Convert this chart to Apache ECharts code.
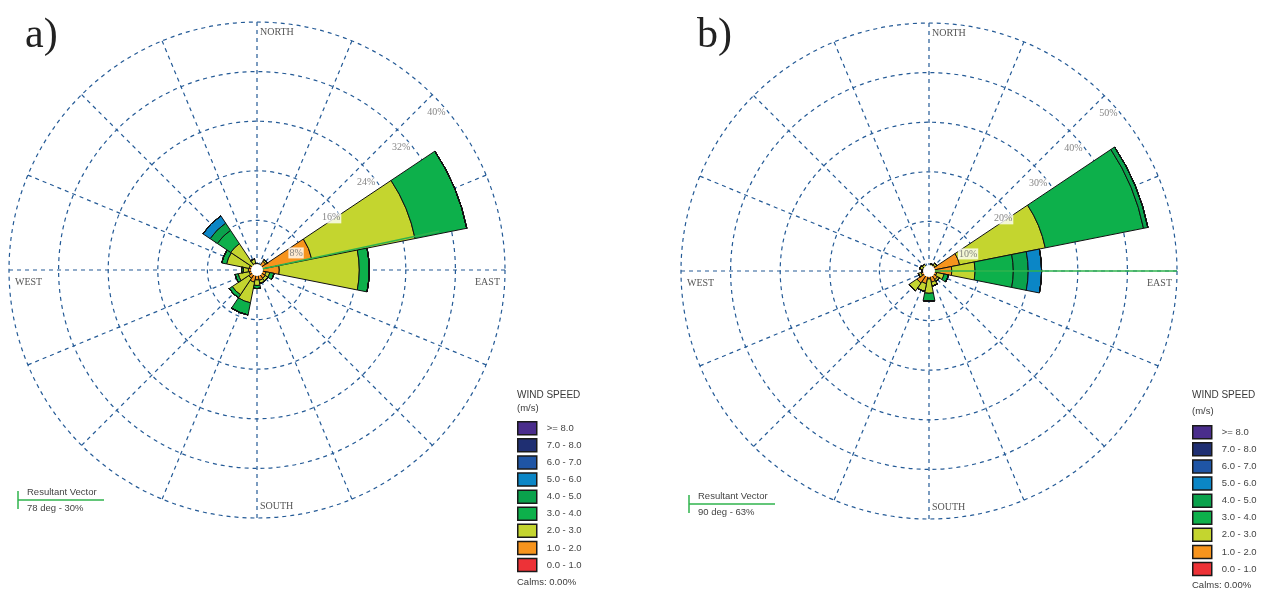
<!DOCTYPE html>
<html>
<head>
<meta charset="utf-8">
<script src="https://cdn.jsdelivr.net/npm/echarts@6/dist/echarts.min.js"></script>
<style>
html,body{margin:0;padding:0;background:#fff;}
#chart{width:1261px;height:590px;}
</style>
</head>
<body>
<div id="chart"></div>
<script>
// ---------- DATA ----------
const directions = ['N','NNE','NE','ENE','E','ESE','SE','SSE','S','SSW','SW','WSW','W','WNW','NW','NNW'];
const speedBins = ['0.0 - 1.0','1.0 - 2.0','2.0 - 3.0','3.0 - 4.0','4.0 - 5.0','5.0 - 6.0','6.0 - 7.0','7.0 - 8.0','>= 8.0'];
const binColors = ['#ed3237','#f7941d','#c4d52f','#0db04b','#0aa24c','#0b86c6','#1f55a5','#1f2f72','#4a2d8c'];

// Chart a) frequency (%) per direction, one array per speed bin
const a_0_1 = [0.1,0.1,0.2,0.3,0.2,0.1,0.1,0.1,0.1,0.1,0.1,0.1,0.1,0.1,0.1,0.1];
const a_1_2 = [0.9,0.8,1.5,8.7,3.4,1.4,1.5,1.6,1.5,1.9,1.5,1.2,1.3,1.2,0.6,1.0];
const a_2_3 = [0,0,0.3,17.0,12.9,0.6,0.5,0.5,0.9,3.4,3.2,1.8,0.8,3.7,4.4,0.7];
const a_3_4 = [0,0,0,8.5,1.6,0.7,0,0,0.5,2.0,0.6,0.5,0.3,0.8,2.6,0];
const a_4_5 = [0,0,0,0,0,0,0,0,0,0,0,0,0,0,1.4,0];
const a_5_6 = [0,0,0,0,0,0,0,0,0,0,0,0,0,0,1.4,0];
const a_6_7 = [0,0,0,0,0,0,0,0,0,0,0,0,0,0,0,0];
const a_7_8 = [0,0,0,0,0,0,0,0,0,0,0,0,0,0,0,0];
const a_8up = [0,0,0,0,0,0,0,0,0,0,0,0,0,0,0,0];

// Chart b)
const b_0_1 = [0.1,0.1,0.1,0.2,0.2,0.1,0.1,0.1,0.1,0.1,0.1,0.1,0.1,0.1,0.1,0.1];
const b_1_2 = [0.7,0.6,1.4,6.1,4.4,1.5,2.0,2.2,1.5,2.5,2.8,1.5,1.0,1.2,0.7,0.5];
const b_2_3 = [0,0.8,0.4,17.6,4.7,1.5,0.4,0.8,2.9,1.6,1.9,0.6,0.3,0.6,0.8,0.3];
const b_3_4 = [0,0,0,20.2,7.7,0.9,0,0,1.6,0,0,0,0,0,0,0];
const b_4_5 = [0,0,0,0.9,3.0,0,0,0,0,0,0,0,0,0,0,0];
const b_5_6 = [0,0,0,0,2.7,0,0,0,0,0,0,0,0,0,0,0];
const b_6_7 = [0,0,0,0,0,0,0,0,0,0,0,0,0,0,0,0];
const b_7_8 = [0,0,0,0,0,0,0,0,0,0,0,0,0,0,0,0];
const b_8up = [0,0,0,0,0,0,0,0,0,0,0,0,0,0,0,0];

const ringTicksA = [8,16,24,32,40];
const ringTicksB = [10,20,30,40,50];
const resultantA = [78, 30];   // [deg, %]
const resultantB = [90, 63];
const calmsA = '0.00%';
const calmsB = '0.00%';

// ---------- LAYOUT / STYLE ----------
const R = 248;
const centerA = [257, 270];
const centerB = [929, 271];
const gridColor = '#245a96';
const serif = '"Liberation Serif", "Times New Roman", serif';
const sans = '"Liberation Sans", Arial, sans-serif';
const vecColor = '#2fb34d';

const seriesA = [a_0_1,a_1_2,a_2_3,a_3_4,a_4_5,a_5_6,a_6_7,a_7_8,a_8up];
const seriesB = [b_0_1,b_1_2,b_2_3,b_3_4,b_4_5,b_5_6,b_6_7,b_7_8,b_8up];

function gridAxes(polarIndex, maxV, step){
  return {
    angle: {polarIndex, type:'value', min:0, max:360, interval:22.5, startAngle:90, clockwise:true,
      axisLine:{show:false}, axisTick:{show:false}, axisLabel:{show:false},
      splitLine:{show:true, lineStyle:{color:gridColor, width:1.2, type:[4,4]}}},
    radius: {polarIndex, type:'value', min:0, max:maxV, interval:step,
      axisLine:{show:false}, axisTick:{show:false}, axisLabel:{show:false},
      splitLine:{show:true, lineStyle:{color:gridColor, width:1.2, type:[4,4]}}}
  };
}
function barAxes(polarIndex, maxV){
  return {
    angle: {polarIndex, type:'category', data:directions, startAngle:90 + 360/directions.length/2, clockwise:true,
      axisLine:{show:false}, axisTick:{show:false}, axisLabel:{show:false}, splitLine:{show:false}},
    radius: {polarIndex, type:'value', min:0, max:maxV,
      axisLine:{show:false}, axisTick:{show:false}, axisLabel:{show:false}, splitLine:{show:false}}
  };
}
const gA = gridAxes(0, ringTicksA[ringTicksA.length-1], ringTicksA[0]);
const bA = barAxes(1, ringTicksA[ringTicksA.length-1]);
const gB = gridAxes(2, ringTicksB[ringTicksB.length-1], ringTicksB[0]);
const bB = barAxes(3, ringTicksB[ringTicksB.length-1]);

function barSeries(dataArr, polarIndex, stack){
  return dataArr.map((d,i)=>({
    type:'bar', name: speedBins[i], coordinateSystem:'polar', polarIndex, stack,
    data:d, barCategoryGap:'0%', barGap:'0%',
    itemStyle:{color:binColors[i], borderColor:'#111', borderWidth:1},
    emphasis:{disabled:true}, silent:true, z:3
  }));
}
function ringLabels(ticks, polarIndex){
  return {
    type:'scatter', coordinateSystem:'polar', polarIndex,
    data: ticks.map(v=>[v,45]), symbolSize:1, itemStyle:{color:'rgba(0,0,0,0)'},
    label:{show:true, position:'inside', offset:[4,18], formatter:p=>p.value[0]+'%',
      backgroundColor:'#fff', padding:[1,1,0,1], fontFamily:serif, fontSize:10, color:'#666'},
    silent:true, z:8
  };
}
function vectorLine(res, ticks, polarIndex){
  const maxV = ticks[ticks.length-1];
  return {
    type:'line', coordinateSystem:'polar', polarIndex,
    data:[[0,res[0]],[Math.min(res[1],maxV),res[0]]], symbol:'none',
    lineStyle:{color:vecColor, width:1.5}, silent:true, z:7
  };
}

const legendOrder = speedBins.slice().reverse();
function legendCfg(left, top){
  return {left, top, height:180, padding:0, orient:'vertical', itemWidth:19, itemHeight:13, itemGap:2.6,
    icon:'rect', data:legendOrder, selectedMode:false,
    itemStyle:{borderColor:'#1a1a1a', borderWidth:1.5},
    textStyle:{fontFamily:sans, fontSize:9.5, lineHeight:13, color:'#444', padding:[0,0,0,5]}};
}

function txt(x,y,text,font,align,fill){
  return {type:'text', x, y, z:100, silent:true,
    style:{text, font, fill:fill||'#555', textAlign:align||'left', align:align||'left', textVerticalAlign:'middle', verticalAlign:'middle'}};
}
function compass(c){
  const f = '10px ' + serif;
  return [
    txt(c[0]+3, c[1]-238, 'NORTH', f),
    txt(c[0]+3, c[1]+236, 'SOUTH', f),
    txt(c[0]-242, c[1]+12, 'WEST', f),
    txt(c[0]+243, c[1]+12, 'EAST', f, 'right')
  ];
}
function calmCircle(c){
  return {type:'circle', z:50, silent:true, shape:{cx:c[0], cy:c[1], r:6}, style:{fill:'#fff'}};
}
function windLegendText(x, y1, y2, yc, calms){
  return [
    txt(x, y1, 'WIND SPEED', '10px ' + sans, 'left', '#3a3a3a'),
    txt(x, y2, '(m/s)', '9.5px ' + sans, 'left', '#3a3a3a'),
    txt(x, yc, 'Calms: ' + calms, '9.5px ' + sans, 'left', '#3a3a3a')
  ];
}
function vectorLegend(x, y, res){
  return [
    {type:'line', z:100, silent:true, shape:{x1:x, y1:y, x2:x+86, y2:y}, style:{stroke:vecColor, lineWidth:1.5}},
    {type:'line', z:100, silent:true, shape:{x1:x, y1:y-9, x2:x, y2:y+9}, style:{stroke:vecColor, lineWidth:1.5}},
    txt(x+9, y-8, 'Resultant Vector', '9.5px ' + sans, 'left', '#444'),
    txt(x+9, y+8, res[0] + ' deg - ' + res[1] + '%', '9.5px ' + sans, 'left', '#444')
  ];
}

const option = {
  animation:false,
  backgroundColor:'#fff',
  polar:[
    {center:centerA, radius:R},
    {center:centerA, radius:R},
    {center:centerB, radius:R},
    {center:centerB, radius:R}
  ],
  angleAxis:[gA.angle, bA.angle, gB.angle, bB.angle],
  radiusAxis:[gA.radius, bA.radius, gB.radius, bB.radius],
  legend:[legendCfg(517, 421), legendCfg(1192, 425)],
  series:[
    ...barSeries(seriesA, 1, 'a'),
    ...barSeries(seriesB, 3, 'b'),
    ringLabels(ringTicksA, 0),
    ringLabels(ringTicksB, 2),
    vectorLine(resultantA, ringTicksA, 0),
    vectorLine(resultantB, ringTicksB, 2)
  ],
  graphic:[
    txt(25, 36, 'a)', '42px ' + serif, 'left', '#222'),
    txt(697, 36, 'b)', '42px ' + serif, 'left', '#222'),
    ...compass(centerA),
    ...compass(centerB),
    calmCircle(centerA),
    calmCircle(centerB),
    ...windLegendText(517, 395, 408, 582, calmsA),
    ...windLegendText(1192, 395, 411, 585, calmsB),
    ...vectorLegend(18, 500, resultantA),
    ...vectorLegend(689, 504, resultantB)
  ]
};
const chart = echarts.init(document.getElementById('chart'), null, {renderer:'canvas'});
chart.setOption(option);
</script>
</body>
</html>
